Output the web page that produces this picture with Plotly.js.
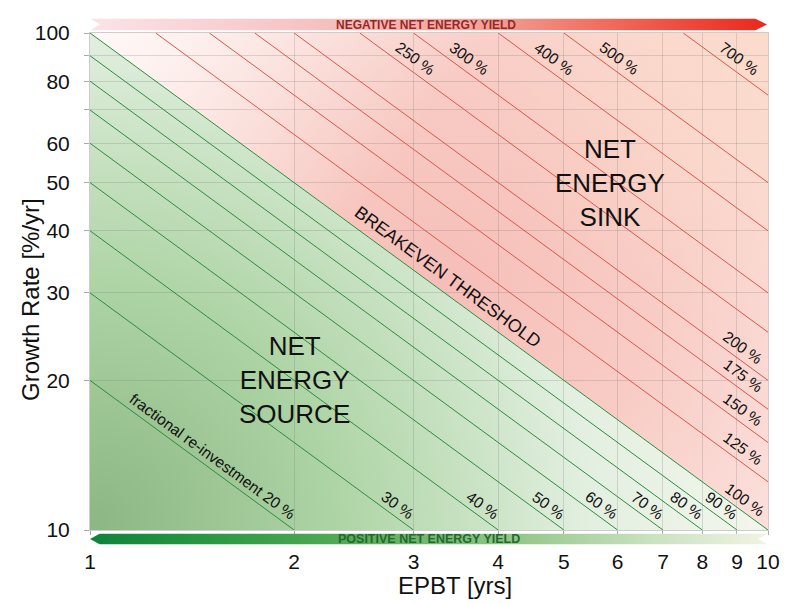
<!DOCTYPE html>
<html>
<head>
<meta charset="utf-8">
<script src="https://cdn.plot.ly/plotly-3.0.1.min.js"></script>
<style>html,body{margin:0;padding:0;background:#fff;}#chart{width:800px;height:604px;}</style>
</head>
<body>
<div id="chart"></div>
<script>
// ---- data ----
const epbtTicks = [1, 2, 3, 4, 5, 6, 7, 8, 9, 10];
const growthTickVals = [10, 20, 30, 40, 50, 60, 70, 80, 90, 100];
const growthTickText = ['10', '20', '30', '40', '50', '60', '', '80', '', '100'];
const sourceFractions = [20, 30, 40, 50, 60, 70, 80, 90, 100];
const sourceLabels = ['fractional re-investment 20 %', '30 %', '40 %', '50 %', '60 %', '70 %', '80 %', '90 %', '100 %'];
const sinkFractions = [125, 150, 175, 200, 250, 300, 400, 500, 750];
const sinkLabels = ['125 %', '150 %', '175 %', '200 %', '250 %', '300 %', '400 %', '500 %', '700 %'];
const regionTexts = ['NET<br>ENERGY<br>SOURCE', 'NET<br>ENERGY<br>SINK'];
const barTexts = ['NEGATIVE NET ENERGY YIELD', 'POSITIVE NET ENERGY YIELD'];

// ---- layout geometry ----
const W = 800, H = 604;
const margin = {l: 90, r: 32, t: 33, b: 74};
const plotW = W - margin.l - margin.r;
const plotH = H - margin.t - margin.b;
const hyp = Math.hypot(plotW, plotH);
const ux = plotW / hyp, uy = plotH / hyp;
const angle = Math.atan2(plotH, plotW) * 180 / Math.PI;
const FONT = 'Liberation Sans, Arial, sans-serif';

const GREEN = 'rgb(45,140,62)';
const RED = 'rgb(214,88,78)';

function lineEnds(f) {
  const e0 = Math.max(1, f / 100), e1 = Math.min(10, f / 10);
  return {x: [e0, e1], y: [f / e0, f / e1]};
}

const traces = [];
sourceFractions.forEach(f => {
  const p = lineEnds(f);
  traces.push({type: 'scatter', mode: 'lines', x: p.x, y: p.y,
    line: {color: GREEN, width: 1}, hoverinfo: 'skip', showlegend: false});
});
sinkFractions.forEach(f => {
  const p = lineEnds(f);
  traces.push({type: 'scatter', mode: 'lines', x: p.x, y: p.y,
    line: {color: RED, width: 1}, hoverinfo: 'skip', showlegend: false});
});

// label placed on line f, measured s px along the line from one end, d px to the upper-right side
function lineLabel(f, end, s, d, text, size) {
  const p = lineEnds(f);
  const i = end === 'start' ? 0 : 1;
  const X = Math.log10(p.x[i]) + s / hyp;
  const Y = Math.log10(p.y[i]) - s / hyp;
  return {x: X, y: Y, xref: 'x', yref: 'y', text: text, showarrow: false,
    textangle: angle, xshift: d * uy, yshift: d * ux,
    font: {family: FONT, size: size, color: '#111'}, xanchor: 'center', yanchor: 'middle'};
}

const LBL = 15.5;
const annotations = [];
sourceFractions.forEach((f, i) => {
  if (i === 0) annotations.push(lineLabel(f, 'end', -109, 11, sourceLabels[i], LBL));
  else annotations.push(lineLabel(f, 'end', sourceLabels[i].length >= 5 ? -37 : -27, 11, sourceLabels[i], LBL));
});
sinkFractions.forEach((f, i) => {
  if (f <= 200) annotations.push(lineLabel(f, 'end', -40, 12, sinkLabels[i], LBL));
  else annotations.push(lineLabel(f, 'start', 60, 12, sinkLabels[i], LBL));
});
annotations.push(lineLabel(100, 'start', 433, 15, 'BREAKEVEN THRESHOLD', 18));

annotations.push({x: Math.log10(2), y: Math.log10(20), xref: 'x', yref: 'y', text: regionTexts[0],
  showarrow: false, font: {family: FONT, size: 26, color: '#111'}});
annotations.push({x: Math.log10(5.85), y: Math.log10(50), xref: 'x', yref: 'y', text: regionTexts[1],
  showarrow: false, font: {family: FONT, size: 26, color: '#111'}});

// bar texts
annotations.push({x: 0.495, y: (plotH + margin.t - 24.5) / plotH, xref: 'paper', yref: 'paper', text: '<b>' + barTexts[0] + '</b>',
  showarrow: false, font: {family: FONT, size: 12, color: 'rgb(150,40,40)'}, xanchor: 'center', yanchor: 'middle'});
annotations.push({x: 0.5, y: (plotH + margin.t - 539) / plotH, xref: 'paper', yref: 'paper', text: '<b>' + barTexts[1] + '</b>',
  showarrow: false, font: {family: FONT, size: 12.5, color: 'rgb(35,105,45)'}, xanchor: 'center', yanchor: 'middle'});

// axis titles
annotations.push({x: (455 - margin.l) / plotW, y: (plotH + margin.t - 585) / plotH, xref: 'paper', yref: 'paper',
  text: 'EPBT [yrs]', showarrow: false, font: {family: FONT, size: 24, color: '#111'}, xanchor: 'center', yanchor: 'middle'});
annotations.push({x: (30 - margin.l) / plotW, y: (plotH + margin.t - 300) / plotH, xref: 'paper', yref: 'paper',
  text: 'Growth Rate [%/yr]', textangle: -90, showarrow: false, font: {family: FONT, size: 24, color: '#111'}, xanchor: 'center', yanchor: 'middle'});

// ---- decorative gradient images ----
function svgURI(s) { return 'data:image/svg+xml;charset=utf-8,' + encodeURIComponent(s); }
const bgSVG = `<svg xmlns='http://www.w3.org/2000/svg' width='${plotW}' height='${plotH}' viewBox='0 0 ${plotW} ${plotH}' preserveAspectRatio='none'>
<defs>
<radialGradient id='g' gradientUnits='userSpaceOnUse' cx='0' cy='${plotH}' r='${plotW}'>
<stop offset='0' stop-color='rgb(140,182,132)'/>
<stop offset='0.35' stop-color='rgb(172,211,163)'/>
<stop offset='0.59' stop-color='rgb(204,228,199)'/>
<stop offset='0.73' stop-color='rgb(226,239,224)'/>
<stop offset='1' stop-color='rgb(243,246,236)'/>
</radialGradient>
<radialGradient id='r' gradientUnits='userSpaceOnUse' cx='350' cy='250' r='430'>
<stop offset='0' stop-color='rgb(246,190,184)'/>
<stop offset='0.5' stop-color='rgb(248,204,197)'/>
<stop offset='1' stop-color='rgb(252,226,222)'/>
</radialGradient>
<linearGradient id='w' gradientUnits='userSpaceOnUse' x1='0' y1='0' x2='260' y2='190'>
<stop offset='0' stop-color='#ffffff' stop-opacity='0.8'/>
<stop offset='1' stop-color='#ffffff' stop-opacity='0'/>
</linearGradient>
<radialGradient id='p' gradientUnits='userSpaceOnUse' cx='${plotW}' cy='0' r='300'>
<stop offset='0' stop-color='rgb(251,218,200)' stop-opacity='0.85'/>
<stop offset='1' stop-color='rgb(251,218,200)' stop-opacity='0'/>
</radialGradient>
</defs>
<polygon points='0,0 ${plotW},0 ${plotW},${plotH}' fill='url(#r)'/>
<polygon points='0,0 ${plotW},0 ${plotW},${plotH}' fill='url(#w)'/>
<polygon points='0,0 ${plotW},0 ${plotW},${plotH}' fill='url(#p)'/>
<polygon points='0,0 0,${plotH} ${plotW},${plotH}' fill='url(#g)'/>
</svg>`;

const topBarSVG = `<svg xmlns='http://www.w3.org/2000/svg' width='${plotW}' height='12' viewBox='0 0 ${plotW} 12' preserveAspectRatio='none'>
<defs><linearGradient id='t' x1='0' y1='0' x2='1' y2='0'>
<stop offset='0' stop-color='rgb(250,228,232)'/>
<stop offset='0.31' stop-color='rgb(247,196,196)'/>
<stop offset='0.59' stop-color='rgb(243,160,150)'/>
<stop offset='0.75' stop-color='rgb(240,112,96)'/>
<stop offset='1' stop-color='rgb(234,40,28)'/>
</linearGradient></defs>
<polygon points='0,0 ${plotW - 13},0 ${plotW - 1},6 ${plotW - 13},12 0,12 10,6' fill='url(#t)'/>
</svg>`;

const botBarSVG = `<svg xmlns='http://www.w3.org/2000/svg' width='${plotW}' height='11' viewBox='0 0 ${plotW} 11' preserveAspectRatio='none'>
<defs><linearGradient id='b' x1='0' y1='0' x2='1' y2='0'>
<stop offset='0' stop-color='rgb(15,130,60)'/>
<stop offset='0.16' stop-color='rgb(40,150,65)'/>
<stop offset='0.35' stop-color='rgb(78,168,82)'/>
<stop offset='0.64' stop-color='rgb(150,200,140)'/>
<stop offset='0.83' stop-color='rgb(202,226,192)'/>
<stop offset='1' stop-color='rgb(242,243,228)'/>
</linearGradient></defs>
<polygon points='0,5.5 10,0 ${plotW},0 ${plotW - 10},5.5 ${plotW},11 10,11' fill='url(#b)'/>
</svg>`;

const images = [
  {source: svgURI(bgSVG), xref: 'paper', yref: 'paper', x: 0, y: 1, sizex: 1, sizey: 1,
    xanchor: 'left', yanchor: 'top', sizing: 'stretch', layer: 'below'},
  {source: svgURI(topBarSVG), xref: 'paper', yref: 'paper', x: 0, y: (plotH + margin.t - 18.5) / plotH, sizex: 1, sizey: 12 / plotH,
    xanchor: 'left', yanchor: 'top', sizing: 'stretch', layer: 'above'},
  {source: svgURI(botBarSVG), xref: 'paper', yref: 'paper', x: 0, y: (plotH + margin.t - 533.5) / plotH, sizex: 1, sizey: 11 / plotH,
    xanchor: 'left', yanchor: 'top', sizing: 'stretch', layer: 'above'}
];

const layout = {
  width: W, height: H, margin: margin,
  paper_bgcolor: '#ffffff', plot_bgcolor: 'rgba(0,0,0,0)',
  showlegend: false,
  font: {family: FONT, color: '#111'},
  xaxis: {type: 'log', range: [0, 1], tickvals: epbtTicks, ticktext: epbtTicks.map(String),
    tickfont: {family: FONT, size: 21, color: '#111'}, ticks: 'outside', ticklen: 4, tickcolor: 'rgb(170,170,170)',
    ticklabelstandoff: 9,
    showgrid: true, gridcolor: 'rgba(110,110,110,0.22)', gridwidth: 1,
    showline: true, linecolor: 'rgb(205,205,205)', linewidth: 1, mirror: true, zeroline: false, fixedrange: true},
  yaxis: {type: 'log', range: [1, 2], tickvals: growthTickVals, ticktext: growthTickText,
    tickfont: {family: FONT, size: 21, color: '#111'}, ticks: 'outside', ticklen: 5, tickcolor: 'rgb(170,170,170)',
    ticklabelstandoff: 10,
    showgrid: true, gridcolor: 'rgba(110,110,110,0.22)', gridwidth: 1,
    showline: true, linecolor: 'rgb(205,205,205)', linewidth: 1, mirror: true, zeroline: false, fixedrange: true},
  annotations: annotations,
  images: images
};

Plotly.newPlot('chart', traces, layout, {staticPlot: true, displayModeBar: false});
</script>
</body>
</html>
